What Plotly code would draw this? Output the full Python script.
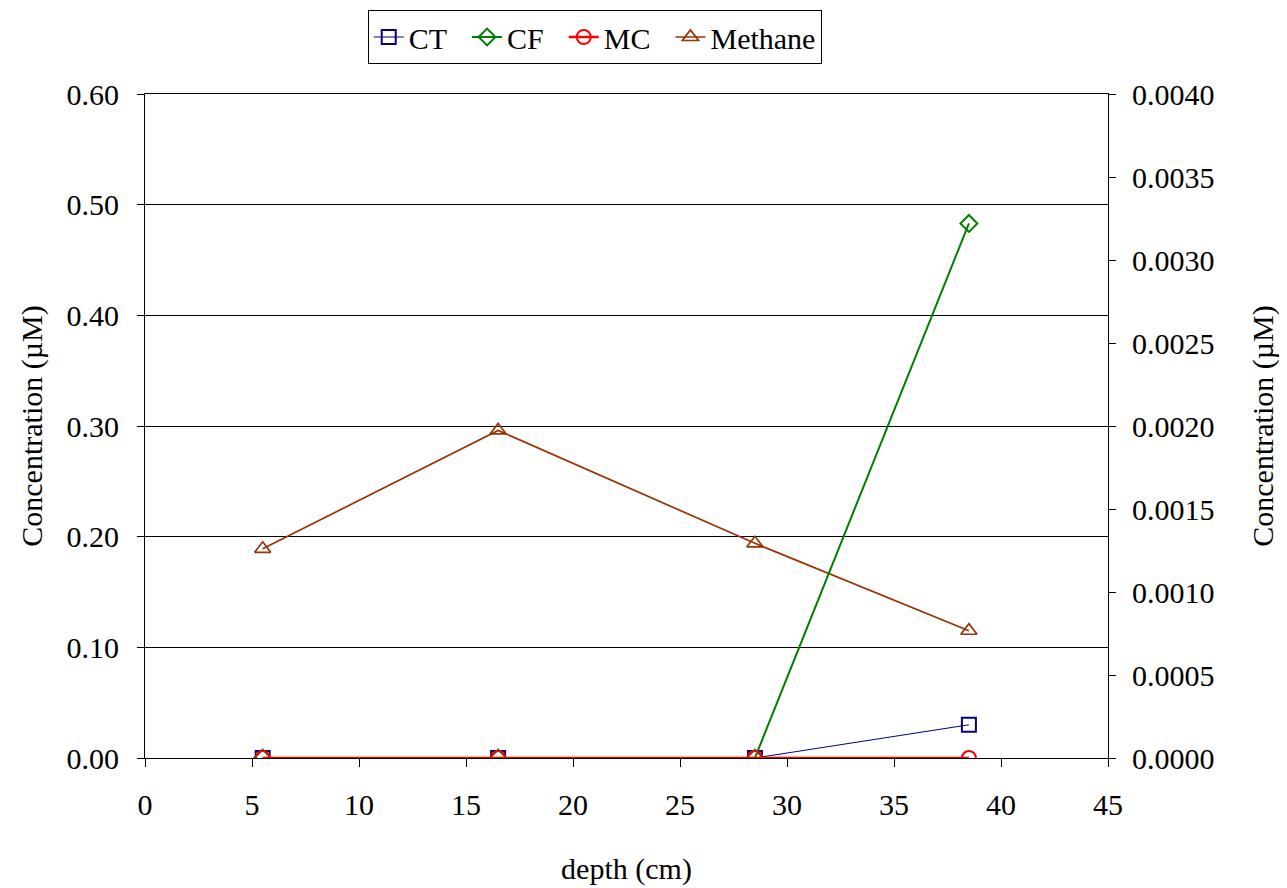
import plotly.graph_objects as go

depth = [5.5, 16.5, 28.5, 38.5]
ct = [0.0, 0.0, 0.0, 0.0002]        # right axis
cf = [0.0, 0.0, 0.0, 0.00322]       # right axis
mc = [0.0, 0.0, 0.0, 0.0]           # right axis
methane = [0.189, 0.296, 0.194, 0.115]  # left axis
names = ["CT", "CF", "MC", "Methane"]

FONT = "Liberation Serif"
FS = 30
PAD = "\u00a0\u00a0"

fig = go.Figure()
fig.add_trace(go.Scatter(x=depth, y=ct, name=names[0] + PAD, yaxis="y2", mode="lines+markers",
                         line=dict(color="#000080", width=1),
                         marker=dict(symbol="square-open", size=14, color="#000080", line=dict(width=2))))
fig.add_trace(go.Scatter(x=depth, y=cf, name=names[1] + PAD, yaxis="y2", mode="lines+markers",
                         line=dict(color="#008000", width=2),
                         marker=dict(symbol="diamond-open", size=13, color="#008000", line=dict(width=2))))
fig.add_trace(go.Scatter(x=depth, y=mc, name=names[2] + PAD, yaxis="y2", mode="lines+markers",
                         line=dict(color="#FF0000", width=2.5),
                         marker=dict(symbol="circle-open", size=14, color="#FF0000", line=dict(width=2))))
fig.add_trace(go.Scatter(x=depth, y=methane, name=names[3], yaxis="y", mode="lines+markers",
                         line=dict(color="#993300", width=1.7),
                         marker=dict(symbol="triangle-up-open", size=14, color="#993300", line=dict(width=1.7))))

fig.update_layout(
    width=1287, height=888,
    margin=dict(l=137, r=187, t=86, b=138, autoexpand=False),
    paper_bgcolor="white", plot_bgcolor="white",
    font=dict(family=FONT, size=FS, color="black"),
    showlegend=True,
    legend=dict(orientation="h", x=0.467, xanchor="center", y=1.1265, yanchor="top",
                bordercolor="black", borderwidth=1, font=dict(family=FONT, size=FS),
                itemwidth=30, tracegroupgap=0),
    xaxis=dict(range=[0, 45], dtick=5, tick0=0, showgrid=False, zeroline=False,
               showline=True, linecolor="black", linewidth=1, mirror=True,
               ticks="outside", ticklen=8, tickcolor="black", ticklabelstandoff=12,
               tickfont=dict(family=FONT, size=FS),
               title=dict(text="depth (cm)", font=dict(family=FONT, size=FS), standoff=37)),
    yaxis=dict(range=[0, 0.6], dtick=0.1, tickformat=".2f", showgrid=True, gridcolor="black",
               gridwidth=1, zeroline=False, showline=True, linecolor="black", linewidth=1,
               ticks="outside", ticklen=7, tickcolor="black", ticklabelstandoff=12,
               tickfont=dict(family=FONT, size=FS),
               title=dict(text="Concentration (µM)", font=dict(family=FONT, size=FS), standoff=15)),
    yaxis2=dict(range=[0, 0.004], dtick=0.0005, tickformat=".4f", overlaying="y", side="right",
                showgrid=False, zeroline=False, showline=True, linecolor="black", linewidth=1,
                ticks="outside", ticklen=7, tickcolor="black", ticklabelstandoff=10,
                tickfont=dict(family=FONT, size=FS),
                title=dict(text="Concentration (µM)", font=dict(family=FONT, size=FS), standoff=38)),
)

fig.write_html("out.html")
